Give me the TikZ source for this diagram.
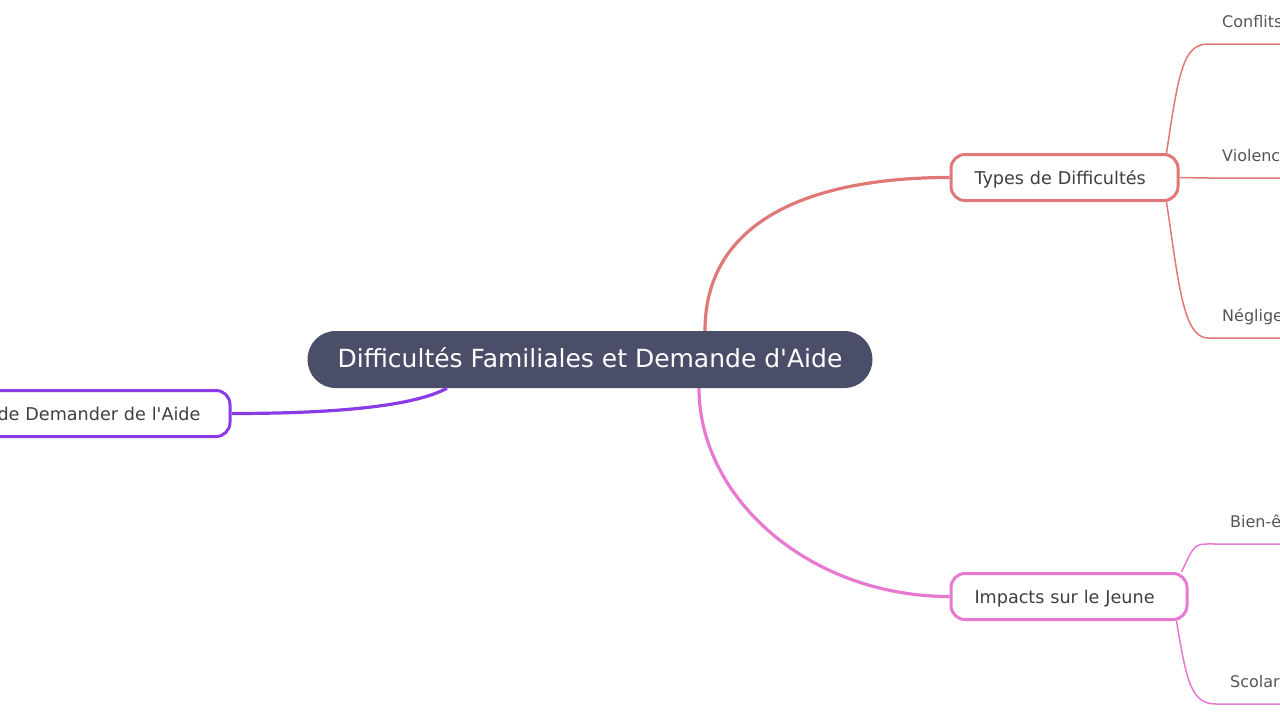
\documentclass[tikz,border=0pt]{standalone}
\usepackage{fontspec}
\setmainfont{DejaVu Sans}
\usetikzlibrary{positioning}

\definecolor{rootfill}{HTML}{4A4E69}
\definecolor{redbranch}{HTML}{DF7876}
\definecolor{pinkbranch}{HTML}{E879D3}
\definecolor{purplebranch}{HTML}{8A3BE6}
\definecolor{topictext}{HTML}{3F3F3F}
\definecolor{leaftext}{HTML}{555555}

\tikzset{
  rootnode/.style={fill=rootfill, text=white, rounded corners=28pt, minimum height=57pt,
    inner xsep=30pt, text height=20pt, text depth=4pt, font=\fontsize{25}{30}\selectfont},
  topicnode/.style={draw, line width=3pt, fill=white, rounded corners=14pt, minimum height=46pt,
    inner xsep=23.5pt, text height=16pt, text depth=3pt, align=left, text=topictext,
    font=\fontsize{17.6}{21}\selectfont},
  leafnode/.style={anchor=south west, inner xsep=14pt, inner ysep=6pt, text height=12pt,
    text depth=10pt, text width=150pt, align=left, text=leaftext, font=\fontsize{16}{19}\selectfont},
  branch/.style={line width=3.2pt},
  twig/.style={line width=1.5pt}
}

\begin{document}
\begin{tikzpicture}[x=1pt, y=-1pt]
  \useasboundingbox (0,0) rectangle (1280,720);
  \clip (0,0) rectangle (1280,720);

  % centre et branches principales
  \node[rootnode] (root) at (590,359.5) {Difficultés Familiales et Demande d\textquotesingle Aide};
  \node[topicnode, draw=redbranch, text width=180pt, anchor=west] (types) at (949.5,177.5) {Types de Difficultés};
  \node[topicnode, draw=pinkbranch, text width=189pt, anchor=west] (impacts) at (949.5,596.5) {Impacts sur le Jeune};
  \node[topicnode, draw=purplebranch, text width=400pt, align=right, inner xsep=29.5pt, anchor=east] (aide) at (231.5,413.5) {de Demander de l\textquotesingle Aide};

  \draw[branch, redbranch] ([xshift=115pt]root.north) .. controls +(0,-110) and +(-140,0) .. (types.west);
  \draw[branch, pinkbranch] ([xshift=109pt]root.south) .. controls +(0,110) and +(-140,0) .. (impacts.west);
  \draw[branch, purplebranch] ([xshift=-143pt]root.south) .. controls +(-37,20) and +(90,0) .. (aide.east);

  % feuilles
  \node[leafnode] (conflits) at (1208,44) {Conflits};
  \node[leafnode] (violence) at (1208,178) {Violence};
  \node[leafnode] (negligence) at (1208,338) {Négligence};
  \node[leafnode] (bienetre) at (1216,544) {Bien-être};
  \node[leafnode] (scolarite) at (1216,704) {Scolarité};

  \draw[twig, redbranch] ([xshift=-13pt]types.north east) .. controls +(12,-80) and +(-25,0) .. (conflits.south west) -- (conflits.south east);
  \draw[twig, redbranch] (types.east) -- (violence.south west) -- (violence.south east);
  \draw[twig, redbranch] ([xshift=-13pt]types.south east) .. controls +(12,80) and +(-25,0) .. (negligence.south west) -- (negligence.south east);
  \draw[twig, pinkbranch] ([xshift=-7pt]impacts.north east) .. controls +(14,-30) and +(-22,0) .. (bienetre.south west) -- (bienetre.south east);
  \draw[twig, pinkbranch] ([xshift=-12pt]impacts.south east) .. controls +(10,60) and +(-25,0) .. (scolarite.south west) -- (scolarite.south east);
\end{tikzpicture}
\end{document}
